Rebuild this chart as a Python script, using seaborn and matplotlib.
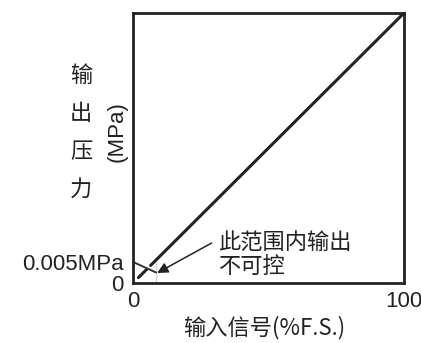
import matplotlib
matplotlib.use("Agg")
import matplotlib.pyplot as plt
import seaborn as sns
import pandas as pd

sns.set_theme(style="white")
plt.rcParams['font.family'] = ['Liberation Sans', 'Noto Sans CJK SC', 'DejaVu Sans']

# data
x_solid = [6.5, 100]
y_solid = [6.5, 100]
x_dash = [2, 5]
y_dash = [2, 5]
box_x = [0, 8.5, 8.5]
box_y = [7.8, 7.8, 0]
xticks = [0, 100]
xticklabels = ['0', '100']
yticks = [0, 7.8]
yticklabels = ['0', '0.005MPa']
annot_text = '此范围内输出\n不可控'
xlabel = '输入信号(%F.S.)'
ylabel_chars = ['输', '出', '压', '力']
ylabel_unit = '(MPa)'

cjk = ['Noto Sans CJK SC', 'DejaVu Sans']
lat = ['Liberation Sans', 'DejaVu Sans']
FS = 16
C = '#222222'
CW = 'light'

fig = plt.figure(figsize=(4.21, 3.43), dpi=100)
W, H = 421, 343
ax = fig.add_axes([133 / W, (H - 283) / H, 271 / W, 270 / H])

df_s = pd.DataFrame({'x': x_solid, 'y': y_solid})
df_d = pd.DataFrame({'x': x_dash, 'y': y_dash})
df_b = pd.DataFrame({'x': box_x, 'y': box_y})
sns.lineplot(data=df_s, x='x', y='y', ax=ax, color=C, lw=2.2, sort=False)
sns.lineplot(data=df_d, x='x', y='y', ax=ax, color=C, lw=2.2, sort=False)
sns.lineplot(data=df_b, x='x', y='y', ax=ax, color='#333333', lw=1.4, sort=False)

ax.set_xlim(0, 100)
ax.set_ylim(0, 100)
for s in ax.spines.values():
    s.set_visible(True)
    s.set_color(C)
    s.set_linewidth(2.0)

ax.set_xticks(xticks)
ax.set_xticklabels(xticklabels, fontsize=FS, family=lat)
ax.set_yticks(yticks)
ax.set_yticklabels(yticklabels, fontsize=FS, family=lat)
ax.tick_params(axis='both', length=0, colors=C)
ax.tick_params(axis='x', pad=6)
ax.tick_params(axis='y', pad=7)
ax.set_xlabel('')
ax.set_ylabel('')
ax.get_xticklabels()[1].set_x(99.3)

ax.annotate('', xy=(8.9, 3.7), xytext=(29, 14.8), textcoords='data',
            arrowprops=dict(arrowstyle='-|>', color=C, lw=1.1,
                            shrinkA=0, shrinkB=0, mutation_scale=16),
            annotation_clip=False)
ax.text(31.4, 10.4, annot_text, fontsize=FS, family=cjk, color=C,
        fontweight=CW, ha='left', va='center', linespacing=1.05)

fig.text(264 / W, 1 - 328 / H, xlabel, fontsize=FS, family=cjk,
         fontweight=CW, ha='center', va='center', color=C)
for ch, yp in zip(ylabel_chars, [75, 114, 152, 189]):
    fig.text(81 / W, 1 - yp / H, ch, fontsize=FS, family=cjk, fontweight=CW,
             ha='center', va='center', color=C)
fig.text(117 / W, 1 - 132 / H, ylabel_unit, fontsize=FS, family=lat,
         rotation=90, ha='center', va='center', color=C)

fig.savefig('out.png', dpi=100, facecolor='white')
